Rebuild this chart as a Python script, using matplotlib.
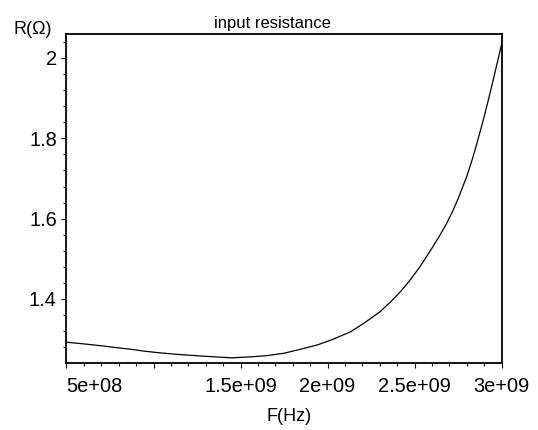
import numpy as np
import matplotlib
matplotlib.use('Agg')
import matplotlib.pyplot as plt
from matplotlib.ticker import MultipleLocator

# values
freq_ghz = [0.50, 0.62, 0.71, 0.79, 0.87, 0.95, 1.04, 1.14, 1.28, 1.45,
            1.56, 1.65, 1.75, 1.84, 1.94, 2.03, 2.13, 2.21, 2.30, 2.36,
            2.42, 2.47, 2.53, 2.60, 2.64, 2.68, 2.72, 2.75, 2.80, 2.83,
            2.86, 2.90, 2.93, 2.95, 2.98, 3.00]
r_ohm = [1.2925, 1.2873, 1.2830, 1.2788, 1.2748, 1.2700, 1.2658, 1.2620, 1.2578, 1.2535,
         1.2560, 1.2590, 1.2650, 1.2745, 1.2855, 1.2995, 1.3180, 1.3400, 1.3680, 1.3920,
         1.4190, 1.4450, 1.4800, 1.5270, 1.5550, 1.5850, 1.6200, 1.6500, 1.7060, 1.7460,
         1.7910, 1.8550, 1.9070, 1.9430, 1.9980, 2.0350]

xticks = [5e8, 1e9, 1.5e9, 2e9, 2.5e9, 3e9]
xticklabels = ['5e+08', '', '1.5e+09', '2e+09', '2.5e+09', '3e+09']
yticks = [1.4, 1.6, 1.8, 2.0]
yticklabels = ['1.4', '1.6', '1.8', '2']

freq = np.array(freq_ghz) * 1e9

plt.rcParams['font.family'] = ['Liberation Sans', 'DejaVu Sans']

fig = plt.figure(figsize=(5.38, 4.30), dpi=100)
ax = fig.add_axes([0.1236, 0.1565, 0.8089, 0.7644])

ax.plot(freq, r_ohm, color='black', lw=0.9)

ax.set_xlim(5e8, 3e9)
ax.set_ylim(1.2414, 2.0597)

ax.set_xticks(xticks, xticklabels)
ax.set_yticks(yticks, yticklabels)
ax.xaxis.set_minor_locator(MultipleLocator(1e8))
ax.yaxis.set_minor_locator(MultipleLocator(0.04))
ax.tick_params(which='major', length=3.6, width=0.8, labelsize=14.4, color='black')
ax.tick_params(which='minor', length=2.2, width=0.8, color='black')
ax.tick_params(axis='x', which='major', pad=6.5)
ax.tick_params(axis='y', which='major', pad=3.4)
ax.xaxis.get_major_ticks()[0].label1.set_horizontalalignment('left')

for s in ax.spines.values():
    s.set_linewidth(1.3)
    s.set_color('black')

fig.text(0.507, 0.935, 'input resistance', ha='center', va='baseline', fontsize=12)
fig.text(0.026, 0.921, 'R(\u03a9)', ha='left', va='baseline', fontsize=13)
fig.text(0.537, 0.021, 'F(Hz)', ha='center', va='baseline', fontsize=13)

fig.savefig('out.png', dpi=100)
